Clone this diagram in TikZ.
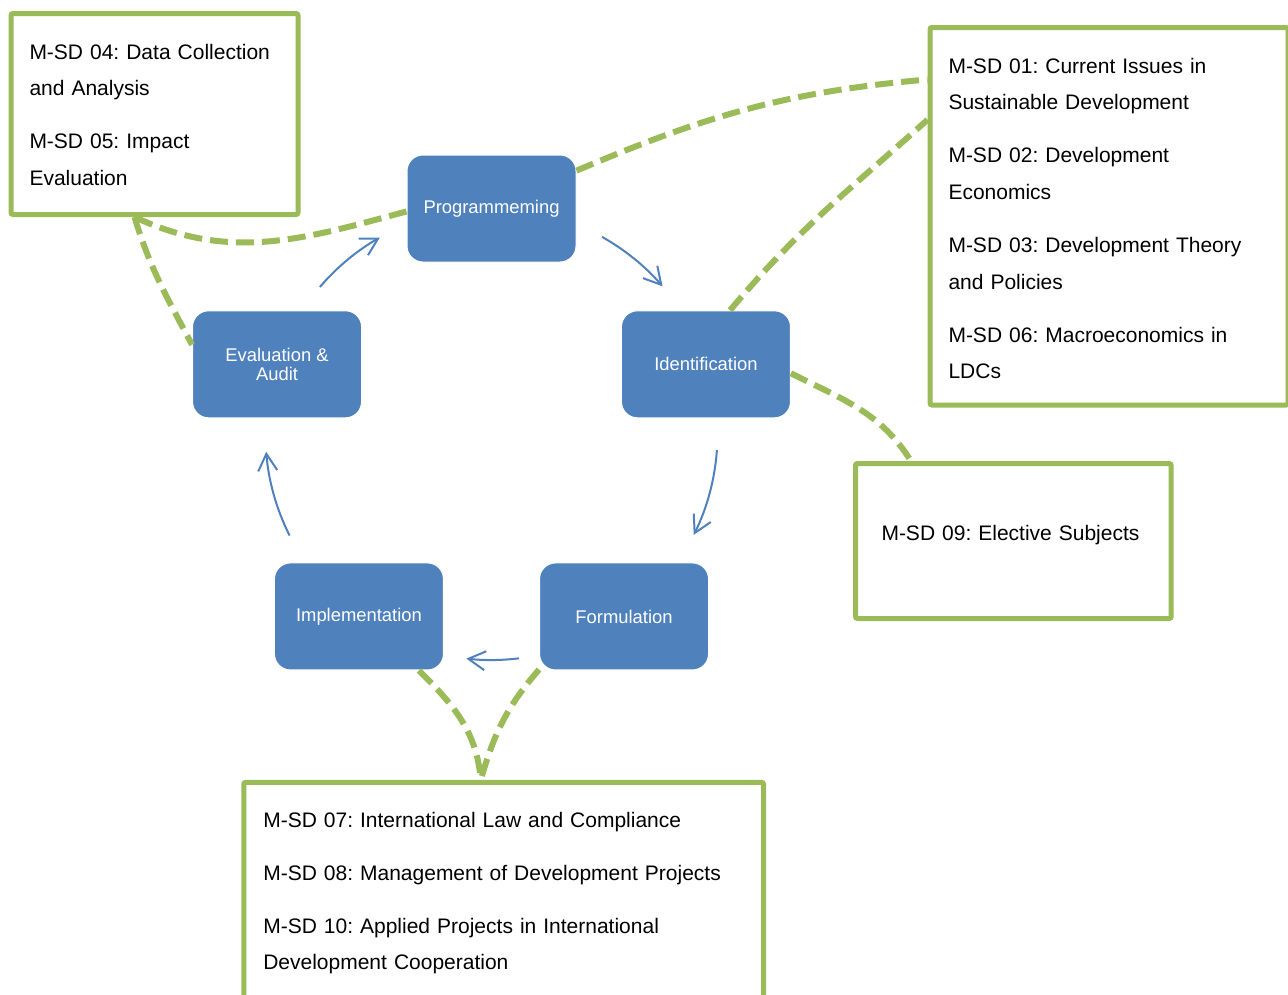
\documentclass[tikz,border=0pt]{standalone}
\usepackage{fontspec}
\setmainfont{Liberation Sans}
\usetikzlibrary{arrows.meta}
\frenchspacing
\definecolor{cycleblue}{HTML}{4F81BD}
\definecolor{modgreen}{HTML}{9BBB59}
\tikzset{>={Straight Barb[length=17pt,width=19pt]}}
\tikzset{
  stage/.style={fill=cycleblue, draw=white, line width=1pt, rounded corners=16pt,
    minimum width=169pt, minimum height=107pt, inner sep=0pt, align=center,
    text=white, font=\fontsize{18.4pt}{19.5pt}\selectfont},
  module/.style={draw=modgreen, line width=5pt, fill=white, rounded corners=2pt,
    anchor=north west, inner ysep=0pt, align=left,
    font=\fontsize{21pt}{36.7pt}\selectfont},
  link/.style={draw=modgreen, line width=6pt, dash pattern=on 18pt off 8pt},
  turn/.style={->, draw=cycleblue, line width=2pt}
}

\begin{document}
\begin{tikzpicture}[x=1pt, y=1pt]
    \useasboundingbox (0,0) rectangle (1288,-994);
    \clip (0,0) rectangle (1288,-994);

    \begin{scope}[shift={(491.5,-434)}]
        \coordinate (hub) at (0,0);
        \node (prog) [stage] at (90:225.5) {Programmeming};
        \node (ident) [stage] at (18:225.5) {Identification};
        \node (form) [stage] at (-54:225.5) {Formulation};
        \node (impl) [stage] at (-126:225.5) {Implementation};
        \node (eval) [stage] at (162:225.5) {Evaluation \&\\Audit};
        \draw [turn] (60.7:226) arc [start angle=60.7, end angle=40.8, radius=226];
        \draw [turn] (-4.1:226) arc [start angle=-4.1, end angle=-26.5, radius=226];
        \draw [turn] (-83:226) arc [start angle=-83, end angle=-96.4, radius=226];
        \draw [turn] (206.7:226) arc [start angle=206.7, end angle=184.5, radius=226];
        \draw [turn] (139.4:226) arc [start angle=139.4, end angle=119.6, radius=226];
    \end{scope}

    \node (msd0405) [module, inner xsep=18.5pt, text width=250pt, text height=45.5pt, text depth=155.5pt] at (8.5,-11)
        {M-SD 04: Data Collection\\and Analysis\\[16.3pt]M-SD 05: Impact\\Evaluation};
    \node (msd0106) [module, inner xsep=18.5pt, text width=321pt, text height=45.5pt, text depth=332pt] at (927.5,-25)
        {M-SD 01: Current Issues in\\Sustainable Development\\[16.3pt]M-SD 02: Development\\Economics\\[16.3pt]M-SD 03: Development Theory\\and Policies\\[16.3pt]M-SD 06: Macroeconomics in\\LDCs};
    \node (msd09) [module, inner xsep=26pt, text width=263.7pt, text height=76.5pt, text depth=78.5pt] at (853,-461)
        {M-SD 09: Elective Subjects};
    \node (msd0710) [module, inner xsep=19.5pt, text width=480.7pt, text height=44.7pt, text depth=185.5pt] at (241.3,-779.8)
        {M-SD 07: International Law and Compliance\\[16.3pt]M-SD 08: Management of Development Projects\\[16.3pt]M-SD 10: Applied Projects in International\\Development Cooperation};

    \draw [link] (prog.182) to [out=195, in=-25] (msd0405.259);
    \draw [link] (msd0405.259) to [out=-73, in=118] (eval.167);
    \draw [link] (prog.24) to [out=23, in=185] (msd0106.143);
    \draw [link] (ident.66) to [out=50, in=222] (msd0106.152);
    \draw [link] (ident.-6) to [out=-27, in=122] (msd09.142);
    \draw [link] (impl.-42) to [out=-45, in=95] (msd0710.101);
    \draw [link] (form.212) to [out=229, in=74] (msd0710.101);
\end{tikzpicture}
\end{document}
